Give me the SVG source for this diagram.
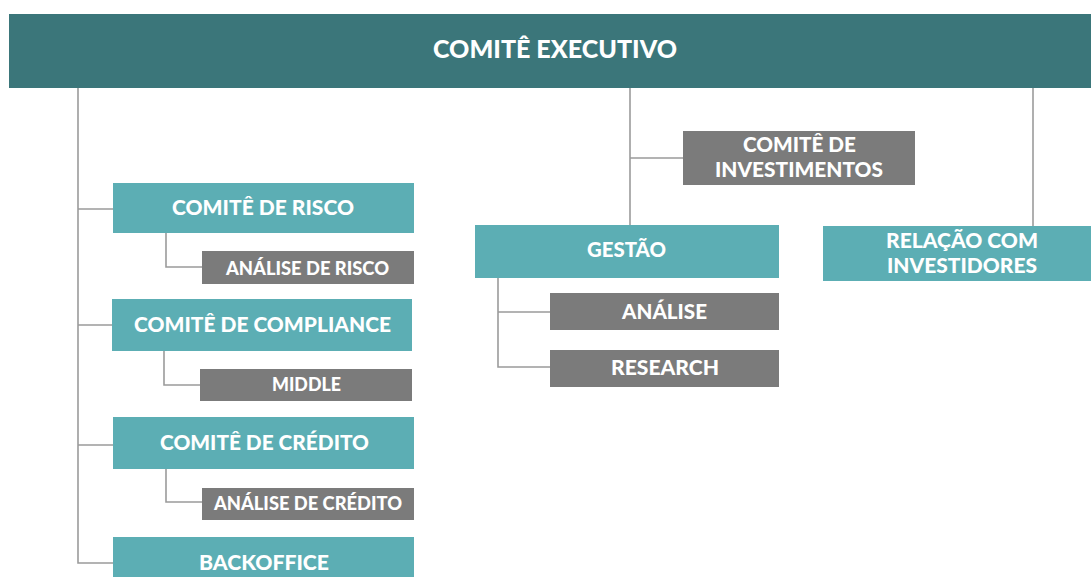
<svg xmlns="http://www.w3.org/2000/svg" width="1091" height="577" viewBox="0 0 1091 577">
<style>
.top{fill:#3b767a}
.teal{fill:#5caeb4}
.gray{fill:#7b7b7b}
text{font-family:Lato,"Open Sans","DejaVu Sans",sans-serif;font-weight:900;fill:#ffffff;text-anchor:middle}
.t1{font-size:25px}
.t2{font-size:21px}
.t3{font-size:19px}
.conn{stroke:#9b9b9b;stroke-width:1.6;fill:none}
</style>
<rect width="1091" height="577" fill="#ffffff"/>
<g id="connectors">
<path class="conn" d="M78,88 V563 H113 M78,209 H113 M78,325 H112 M78,445 H113"/>
<path class="conn" d="M166,233 V267 H202 M164,351 V385 H200 M166,469 V502 H202"/>
<path class="conn" d="M630,88 V225 M630,158 H683"/>
<path class="conn" d="M498,278 V367 H550 M498,312 H550"/>
<path class="conn" d="M1033,88 V226"/>
</g>
<g id="comite-executivo">
<rect class="top" x="9" y="14" width="1090" height="74"/>
<text class="t1" x="555" y="58" textLength="244" lengthAdjust="spacingAndGlyphs">COMITÊ EXECUTIVO</text>
</g>
<g id="comite-risco">
<rect class="teal" x="113" y="183" width="301" height="50"/>
<text class="t2" x="263" y="215" textLength="182" lengthAdjust="spacingAndGlyphs">COMITÊ DE RISCO</text>
</g>
<g id="analise-risco">
<rect class="gray" x="202" y="251" width="212" height="33"/>
<text class="t3" x="307.5" y="275" textLength="163" lengthAdjust="spacingAndGlyphs">ANÁLISE DE RISCO</text>
</g>
<g id="comite-compliance">
<rect class="teal" x="112" y="299" width="300" height="52"/>
<text class="t2" x="262.5" y="332" textLength="257" lengthAdjust="spacingAndGlyphs">COMITÊ DE COMPLIANCE</text>
</g>
<g id="middle">
<rect class="gray" x="200" y="369" width="212" height="32"/>
<text class="t3" x="306.5" y="391" textLength="69" lengthAdjust="spacingAndGlyphs">MIDDLE</text>
</g>
<g id="comite-credito">
<rect class="teal" x="113" y="417" width="301" height="52"/>
<text class="t2" x="264.5" y="450" textLength="209" lengthAdjust="spacingAndGlyphs">COMITÊ DE CRÉDITO</text>
</g>
<g id="analise-credito">
<rect class="gray" x="202" y="488" width="212" height="32"/>
<text class="t3" x="308" y="510" textLength="188" lengthAdjust="spacingAndGlyphs">ANÁLISE DE CRÉDITO</text>
</g>
<g id="backoffice">
<rect class="teal" x="113" y="537" width="301" height="45"/>
<text class="t2" x="264" y="570" textLength="130" lengthAdjust="spacingAndGlyphs">BACKOFFICE</text>
</g>
<g id="comite-investimentos">
<rect class="gray" x="683" y="131" width="232" height="54"/>
<text class="t2" x="799.5" y="152" textLength="113" lengthAdjust="spacingAndGlyphs">COMITÊ DE</text>
<text class="t2" x="799" y="177" textLength="168" lengthAdjust="spacingAndGlyphs">INVESTIMENTOS</text>
</g>
<g id="gestao">
<rect class="teal" x="475" y="225" width="304" height="53"/>
<text class="t2" x="626.5" y="257" textLength="79" lengthAdjust="spacingAndGlyphs">GESTÃO</text>
</g>
<g id="analise">
<rect class="gray" x="550" y="293" width="229" height="37"/>
<text class="t2" x="664.5" y="319" textLength="85" lengthAdjust="spacingAndGlyphs">ANÁLISE</text>
</g>
<g id="research">
<rect class="gray" x="550" y="350" width="229" height="37"/>
<text class="t2" x="665" y="375" textLength="108" lengthAdjust="spacingAndGlyphs">RESEARCH</text>
</g>
<g id="relacao-investidores">
<rect class="teal" x="823" y="226" width="280" height="55"/>
<text class="t2" x="962" y="248" textLength="152" lengthAdjust="spacingAndGlyphs">RELAÇÃO COM</text>
<text class="t2" x="962" y="273" textLength="150" lengthAdjust="spacingAndGlyphs">INVESTIDORES</text>
</g>
</svg>
